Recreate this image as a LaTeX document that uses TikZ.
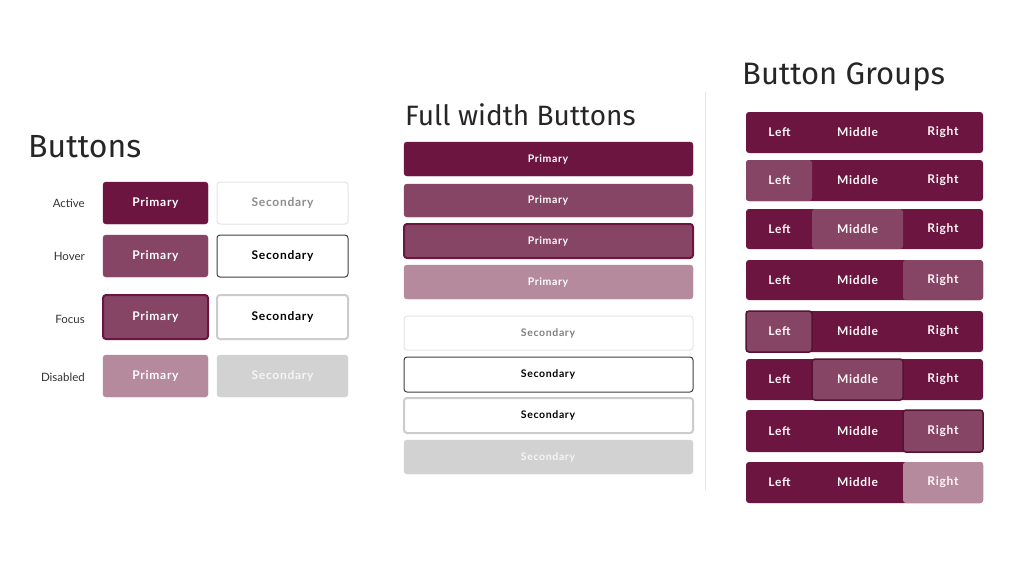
\documentclass[tikz,border=0pt]{standalone}
\usepackage{fontspec}
\setmainfont{Lato}
\newfontfamily\btn[LetterSpace=6]{Lato}
\newfontfamily\ttl{Fira Sans}
\definecolor{pdark}{HTML}{6B1540}
\definecolor{phov}{HTML}{874566}
\definecolor{pdis}{HTML}{B58A9D}
\definecolor{gdis}{HTML}{D2D2D2}
\definecolor{gline}{HTML}{E4E4E4}
\tikzset{
  bt/.style={font=\btn\bfseries\fontsize{12}{14}\selectfont, text=white, inner sep=0},
  sec/.style={font=\btn\bfseries\fontsize{12}{14}\selectfont, text=black, inner sep=0},
  lbl/.style={font=\fontsize{11.5}{13}\selectfont, text=black!80, anchor=east, inner sep=0},
  title/.style={font=\ttl\fontsize{32}{36}\selectfont, text=black!85, anchor=west, inner sep=0},
}
\newcommand{\rbox}[6]{% x1 y1 x2 y2 fill draw
  \fill[#5,rounded corners=3pt] (#1,#2) rectangle (#3,#4);
  \draw[#6,rounded corners=3pt] (#1,#2) rectangle (#3,#4);}
\begin{document}
\begin{tikzpicture}[x=1pt,y=-1pt]
\useasboundingbox (0,0) rectangle (1024,576);
\fill[white] (0,0) rectangle (1024,576);
% ---------- Buttons
\node[title] (t1) at (28,147) {Buttons};
\node[lbl] (l1) at (85,203) {Active};
\node[lbl] (l2) at (85,256) {Hover};
\node[lbl] (l3) at (85,319) {Focus};
\node[lbl] (l4) at (85,377) {Disabled};
\rbox{103}{182}{208}{224}{pdark}{pdark}
\rbox{103}{235}{208}{277}{phov}{phov}
\rbox{103}{295}{208}{339}{phov}{pdark,line width=2pt}
\rbox{103}{355}{208}{397}{pdis}{pdis}
\node[bt] (p1) at (155.5,203) {Primary};
\node[bt] (p2) at (155.5,256) {Primary};
\node[bt] (p3) at (155.5,317) {Primary};
\node[bt] (p4) at (155.5,376) {Primary};
\rbox{217}{182}{348}{224}{white}{gline,line width=1pt}
\rbox{217}{235}{348}{277}{white}{black!75,line width=1pt}
\rbox{217}{295}{348}{339}{white}{black!20,line width=2pt}
\rbox{217}{355}{348}{397}{gdis}{gdis}
\node[sec,text=black!45] (s1) at (282.5,203) {Secondary};
\node[sec] (s2) at (282.5,256) {Secondary};
\node[sec] (s3) at (282.5,317) {Secondary};
\node[sec,text=white!92!gray] (s4) at (282.5,376) {Secondary};
% ---------- Full width
\node[title,font=\ttl\fontsize{28}{32}\selectfont] (t2) at (405,115) {Full width Buttons};
\tikzset{fb/.style={font=\btn\bfseries\fontsize{10.5}{12}\selectfont, inner sep=0}}
\rbox{404}{142}{693}{176}{pdark}{pdark}
\rbox{404}{184}{693}{217}{phov}{phov}
\rbox{404}{224}{693}{258}{phov}{pdark,line width=2pt}
\rbox{404}{265}{693}{299}{pdis}{pdis}
\rbox{404}{316}{693}{350}{white}{gline,line width=1pt}
\rbox{404}{357}{693}{392}{white}{black!75,line width=1pt}
\rbox{404}{398}{693}{433}{white}{black!20,line width=2pt}
\rbox{404}{440}{693}{474}{gdis}{gdis}
\node[fb,text=white] (f1) at (548,159) {Primary};
\node[fb,text=white] (f2) at (548,200) {Primary};
\node[fb,text=white] (f3) at (548,241) {Primary};
\node[fb,text=white] (f4) at (548,282) {Primary};
\node[fb,text=black!50] (f5) at (548,333) {Secondary};
\node[fb,text=black] (f6) at (548,374) {Secondary};
\node[fb,text=black] (f7) at (548,415) {Secondary};
\node[fb,text=white!92!gray] (f8) at (548,457) {Secondary};
\draw[gline,line width=1pt] (705,92) -- (705,490);
% ---------- Button groups
\node[title,font=\ttl\fontsize{31}{34}\selectfont] (t3) at (742,77) {Button Groups};
\tikzset{gb/.style={font=\btn\bfseries\fontsize{12}{14}\selectfont, text=white!90!pink, inner sep=0}}
\foreach \ya/\yb/\hl/\mode [count=\i] in {112/153/0/0, 160/201/1/1, 209/249/2/1, 260/300/3/1, 311/352/1/2, 359/400/2/2, 410/452/3/2, 462/503/3/3}{
  \fill[pdark,rounded corners=3pt] (746,\ya) rectangle (983,\yb);
  \ifnum\hl=1 \def\xa{746}\def\xb{812}\fi
  \ifnum\hl=2 \def\xa{812}\def\xb{903}\fi
  \ifnum\hl=3 \def\xa{903}\def\xb{983}\fi
  \ifnum\hl>0
    \ifnum\mode=3 \fill[pdis,rounded corners=3pt] (\xa,\ya) rectangle (\xb,\yb);\fi
    \ifnum\mode=1 \fill[phov,rounded corners=3pt] (\xa,\ya) rectangle (\xb,\yb);\fi
    \ifnum\mode=2 \fill[phov,draw=pdark!80!black,line width=1.5pt,rounded corners=3pt] (\xa,\ya) rectangle (\xb,\yb);\fi
  \fi
  \node[gb] (gl\i) at (779.5,{(\ya+\yb)/2}) {Left};
  \node[gb] (gm\i) at (857.5,{(\ya+\yb)/2}) {Middle};
  \node[gb] (gr\i) at (943,{(\ya+\yb)/2}) {Right};
}
\end{tikzpicture}
\end{document}
